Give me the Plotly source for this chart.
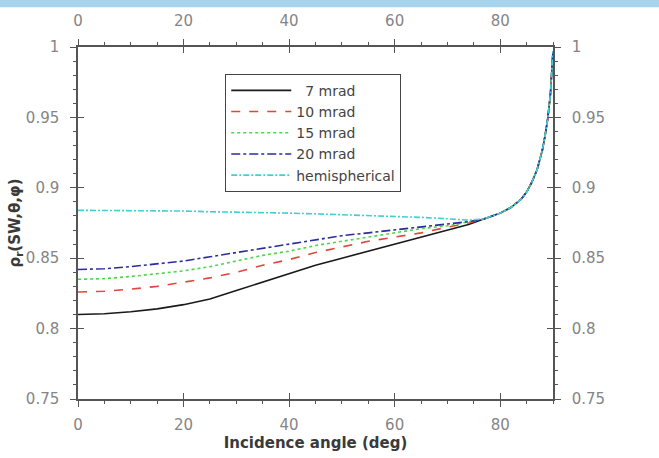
import plotly.graph_objects as go

# incidence angle (deg)
angles = [0, 5, 10, 15, 20, 25, 30, 35, 40, 45, 50, 55, 60, 65, 70, 74, 77,
          80, 82, 84, 85, 86, 87, 88, 88.5, 89, 89.5, 89.8, 90]

tail = [0.882, 0.886, 0.892, 0.897, 0.904, 0.913, 0.927, 0.937, 0.949, 0.966, 0.982, 0.997]

mrad7 = [0.810, 0.8105, 0.812, 0.814, 0.817, 0.821, 0.827, 0.833, 0.839, 0.845, 0.850,
         0.855, 0.860, 0.865, 0.870, 0.874, 0.878] + tail
mrad10 = [0.826, 0.8265, 0.828, 0.830, 0.833, 0.836, 0.840, 0.845, 0.849, 0.854, 0.858,
          0.862, 0.865, 0.868, 0.872, 0.875, 0.878] + tail
mrad15 = [0.835, 0.8355, 0.837, 0.839, 0.841, 0.844, 0.848, 0.852, 0.855, 0.859, 0.862,
          0.865, 0.868, 0.871, 0.873, 0.876, 0.878] + tail
mrad20 = [0.842, 0.8425, 0.844, 0.846, 0.848, 0.851, 0.854, 0.857, 0.860, 0.863, 0.866,
          0.868, 0.870, 0.872, 0.874, 0.876, 0.878] + tail
hemi = [0.884, 0.884, 0.884, 0.8838, 0.8835, 0.883, 0.8828, 0.8825, 0.882, 0.8815, 0.881,
        0.8805, 0.880, 0.879, 0.878, 0.877, 0.878] + tail

series = [
    ("\u20077 mrad", mrad7, "#1a1a1a", "solid"),
    ("10 mrad", mrad10, "#e0463c", "dash"),
    ("15 mrad", mrad15, "#4cd64c", "dot"),
    ("20 mrad", mrad20, "#2c2c9c", "dashdot"),
    ("hemispherical", hemi, "#3fd0d4", "6px,2px,2px,2px"),
]

x_ticks = [0, 20, 40, 60, 80]
y_ticks = [0.75, 0.8, 0.85, 0.9, 0.95, 1]
y_ticklabels = ["0.75", "0.8", "0.85", "0.9", "0.95", "1"]

AXIS = "#555555"
TICKFONT = dict(color="#858585", size=15, family="DejaVu Sans, sans-serif")
TITLEFONT = dict(color="#3a3a3a", size=15, family="DejaVu Sans, sans-serif")

fig = go.Figure()
for name, vals, color, dash in series:
    fig.add_trace(go.Scatter(
        x=angles, y=vals, name=name, mode="lines",
        line=dict(color=color, width=1.6, dash=dash),
    ))

common_x = dict(range=[0, 90], showgrid=False, zeroline=False, linecolor=AXIS,
                linewidth=1.5, tickvals=x_ticks, tickcolor=AXIS, ticklen=6,
                minor=dict(dtick=5, tick0=0, ticklen=3, tickcolor=AXIS))
common_y = dict(range=[0.75, 1.0], showgrid=False, zeroline=False, linecolor=AXIS,
                linewidth=1.5, tickvals=y_ticks, ticktext=y_ticklabels, tickcolor=AXIS,
                ticklen=6, minor=dict(dtick=0.01, tick0=0.75, ticklen=3, tickcolor=AXIS))

fig.update_layout(
    width=659, height=458,
    margin=dict(l=78, r=106, t=45, b=58),
    paper_bgcolor="white", plot_bgcolor="white",
    font=dict(family="DejaVu Sans, sans-serif", color="#333333"),
    xaxis=dict(**common_x, ticks="outside", tickfont=TICKFONT, ticklabelstandoff=5,
               title=dict(text="<b>Incidence angle (deg)</b>", font=TITLEFONT, standoff=2)),
    yaxis=dict(**common_y, ticks="outside", tickfont=TICKFONT, ticklabelstandoff=8,
               title=dict(text="<b>\u03c1<sub>r</sub>(SW,\u03b8,\u03c6)</b>",
                          font=TITLEFONT, standoff=2)),
    xaxis2=dict(**common_x, overlaying="x", side="top", ticks="outside", tickfont=TICKFONT,
                ticklabelstandoff=7, anchor="y"),
    yaxis2=dict(**common_y, overlaying="y", side="right", ticks="outside", tickfont=TICKFONT,
                ticklabelstandoff=8, anchor="x"),
    xaxis3=dict(**common_x, overlaying="x", ticks="inside", mirror="allticks",
                showticklabels=False, anchor="y"),
    yaxis3=dict(**common_y, overlaying="y", ticks="inside", mirror="allticks",
                showticklabels=False, anchor="x"),
    legend=dict(x=0.31, y=0.924, xanchor="left", yanchor="top",
                bgcolor="white", bordercolor="#444444", borderwidth=1,
                font=dict(size=14, color="#444444"), tracegroupgap=0, itemwidth=60,
                entrywidth=125, entrywidthmode="pixels"),
    shapes=[dict(type="rect", xref="paper", yref="paper", x0=-0.2, x1=1.4,
                 y0=1.0 + 40 / 355, y1=1.2, fillcolor="#a6d4ef", line=dict(width=0),
                 layer="below")],
)

# invisible helper traces so the extra axes get drawn
fig.add_trace(go.Scatter(x=[None], y=[None], xaxis="x2", yaxis="y2", showlegend=False,
                         hoverinfo="skip"))
fig.add_trace(go.Scatter(x=[None], y=[None], xaxis="x3", yaxis="y3", showlegend=False,
                         hoverinfo="skip"))

fig.write_html("out.html", config={"displayModeBar": False},
               post_script="document.body.style.margin='0';")
